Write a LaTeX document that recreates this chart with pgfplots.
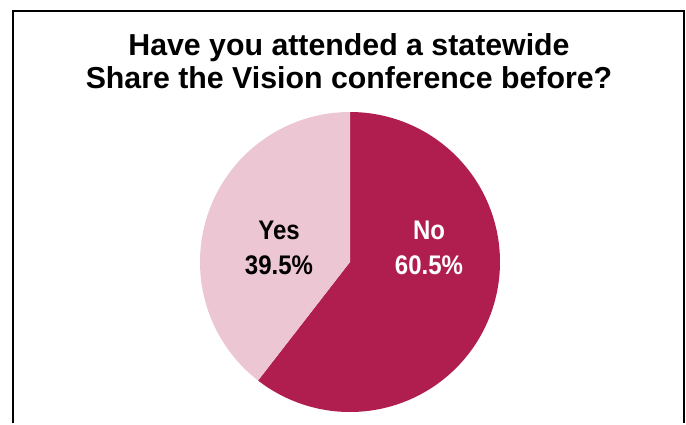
\documentclass[border=0pt]{standalone}
\usepackage{fontspec}
\setmainfont{Liberation Sans}
\usepackage{pgfplots}
\pgfplotsset{compat=1.18}
\definecolor{noc}{RGB}{176,30,80}
\definecolor{yesc}{RGB}{236,199,211}
\begin{document}
\begin{tikzpicture}
\pgfmathsetmacro{\no}{60.5}
\pgfmathsetmacro{\yes}{39.5}
\pgfmathsetmacro{\a}{90-3.6*\no}
\pgfmathsetmacro{\b}{\a-3.6*\yes}
\begin{axis}[width=686pt,height=423pt,scale only axis,xmin=0,xmax=686,ymin=0,ymax=423,hide axis,clip=false]
\addplot[fill=white,draw=none] coordinates {(0,0) (686,0) (686,423) (0,423)} -- cycle;
\addplot[draw=black,line width=2pt] coordinates {(12.5,0) (12.5,412) (683.5,412) (683.5,0)};
\addplot[fill=noc,draw=none,domain=\a:90,samples=240,variable=\t] ({350+150*cos(\t)},{161+150*sin(\t)}) -- (axis cs:350,161) -- cycle;
\addplot[fill=yesc,draw=none,domain=\b:\a,samples=200,variable=\t] ({350+150*cos(\t)},{161+150*sin(\t)}) -- (axis cs:350,161) -- cycle;
\node[align=center,yscale=1.12,font=\fontsize{24}{31}\selectfont\bfseries,text=black] at (axis cs:279,175) {Yes\\39.5\%};
\node[align=center,yscale=1.12,font=\fontsize{24}{31}\selectfont\bfseries,text=white] at (axis cs:429,175) {No\\60.5\%};
\node[align=center,font=\fontsize{30.3}{33}\selectfont\bfseries,text=black] at (axis cs:349,362) {Have you attended a statewide\\Share the Vision conference before?};
\end{axis}
\end{tikzpicture}
\end{document}
